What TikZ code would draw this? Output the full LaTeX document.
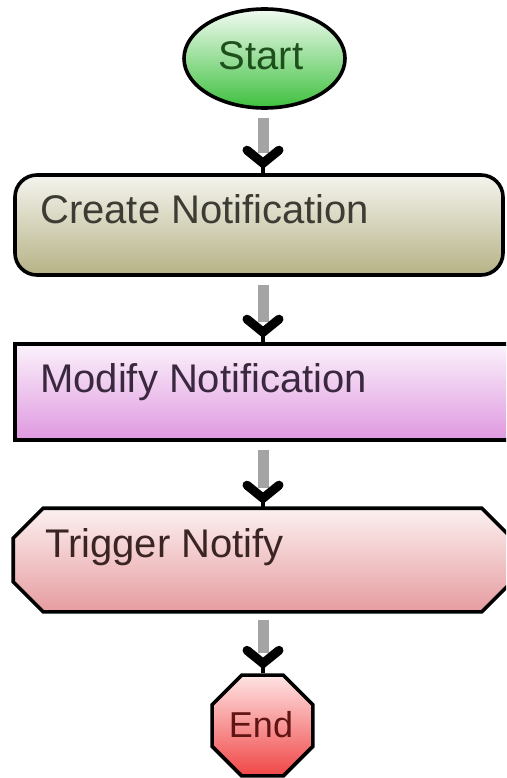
\documentclass[tikz,border=0pt]{standalone}
\usepackage{fontspec}
\setmainfont{Liberation Sans}
\usetikzlibrary{shapes.geometric,shapes.misc}
\definecolor{startTop}{HTML}{F2FBF2}
\definecolor{startBot}{HTML}{3EC03E}
\definecolor{createTop}{HTML}{F4F4EE}
\definecolor{createBot}{HTML}{B6B286}
\definecolor{modTop}{HTML}{FBF2FB}
\definecolor{modBot}{HTML}{DF98E0}
\definecolor{trigTop}{HTML}{FCF0F0}
\definecolor{trigBot}{HTML}{E69CA0}
\definecolor{endTop}{HTML}{FFE4E4}
\definecolor{endBot}{HTML}{F04646}
\definecolor{shaftGray}{HTML}{A4A4A4}
\tikzset{
  box/.style={draw=black, line width=3.6pt, inner sep=0pt},
  lbl/.style={inner sep=0pt, font=\fontsize{40}{48}\selectfont},
  shaft/.style={draw=shaftGray, line width=11pt},
  chev/.style={draw=black, line width=9pt, line cap=round, line join=miter},
  stem/.style={draw=black, line width=4pt},
}
\newcommand\flowarrow[2]{%
  \draw[shaft] ([yshift=-8pt]#1.south -| axis) -- ([yshift=20pt]#2.north -| axis);
  \draw[chev] ([xshift=-16pt,yshift=23pt]#2.north -| axis) -- ([yshift=10pt]#2.north -| axis) -- ([xshift=16pt,yshift=23pt]#2.north -| axis);
  \draw[stem] ([yshift=10pt]#2.north -| axis) -- (#2.north -| axis);
}
\begin{document}
\begin{tikzpicture}[x=1pt,y=-1pt]
\useasboundingbox (0,0) rectangle (506,778);
\clip (0,0) rectangle (506,778);
\fill[white] (0,0) rectangle (506,778);
\coordinate (axis) at (263,0);
% shapes
\node[box, ellipse, top color=startTop, bottom color=startBot,
      minimum width=161pt, minimum height=99pt] (start) at (264.5,58.5) {};
\node[box, rectangle, rounded corners=22pt, top color=createTop, bottom color=createBot,
      minimum width=488pt, minimum height=100pt] (create) at (259,225) {};
\node[box, rectangle, top color=modTop, bottom color=modBot,
      minimum width=502pt, minimum height=96pt] (modify) at (266,392) {};
\node[inner sep=0pt, outer sep=1.8pt, rectangle, minimum width=495pt, minimum height=100pt] (trigger) at (262.5,560) {};
\shade[top color=trigTop, bottom color=trigBot, draw=black, line width=3.6pt, line join=miter]
  ([xshift=30pt]trigger.north west) -- ([xshift=-30pt]trigger.north east)
  -- ([yshift=-30pt]trigger.north east) -- ([yshift=30pt]trigger.south east)
  -- ([xshift=-30pt]trigger.south east) -- ([xshift=30pt]trigger.south west)
  -- ([yshift=30pt]trigger.south west) -- ([yshift=-30pt]trigger.north west) -- cycle;
\node[box, regular polygon, regular polygon sides=8, top color=endTop, bottom color=endBot,
      minimum size=109pt] (end) at (262.5,725.5) {};
% labels
\node[lbl, anchor=base, text={rgb,255:red,30;green,80;blue,30}] (startT) at (261,70) {Start};
\node[lbl, anchor=base west, text={rgb,255:red,60;green,60;blue,52}] (createT) at (40,223) {Create Notification};
\node[lbl, anchor=base west, text={rgb,255:red,58;green,40;blue,62}] (modifyT) at (40,392) {Modify Notification};
\node[lbl, anchor=base west, text={rgb,255:red,58;green,36;blue,36}] (triggerT) at (45,557) {Trigger Notify};
\node[lbl, anchor=base, font=\fontsize{36}{42}\selectfont, text={rgb,255:red,96;green,20;blue,20}] (endT) at (261,737) {End};
% connectors
\flowarrow{start}{create}
\flowarrow{create}{modify}
\flowarrow{modify}{trigger}
\flowarrow{trigger}{end}
\end{tikzpicture}
\end{document}
